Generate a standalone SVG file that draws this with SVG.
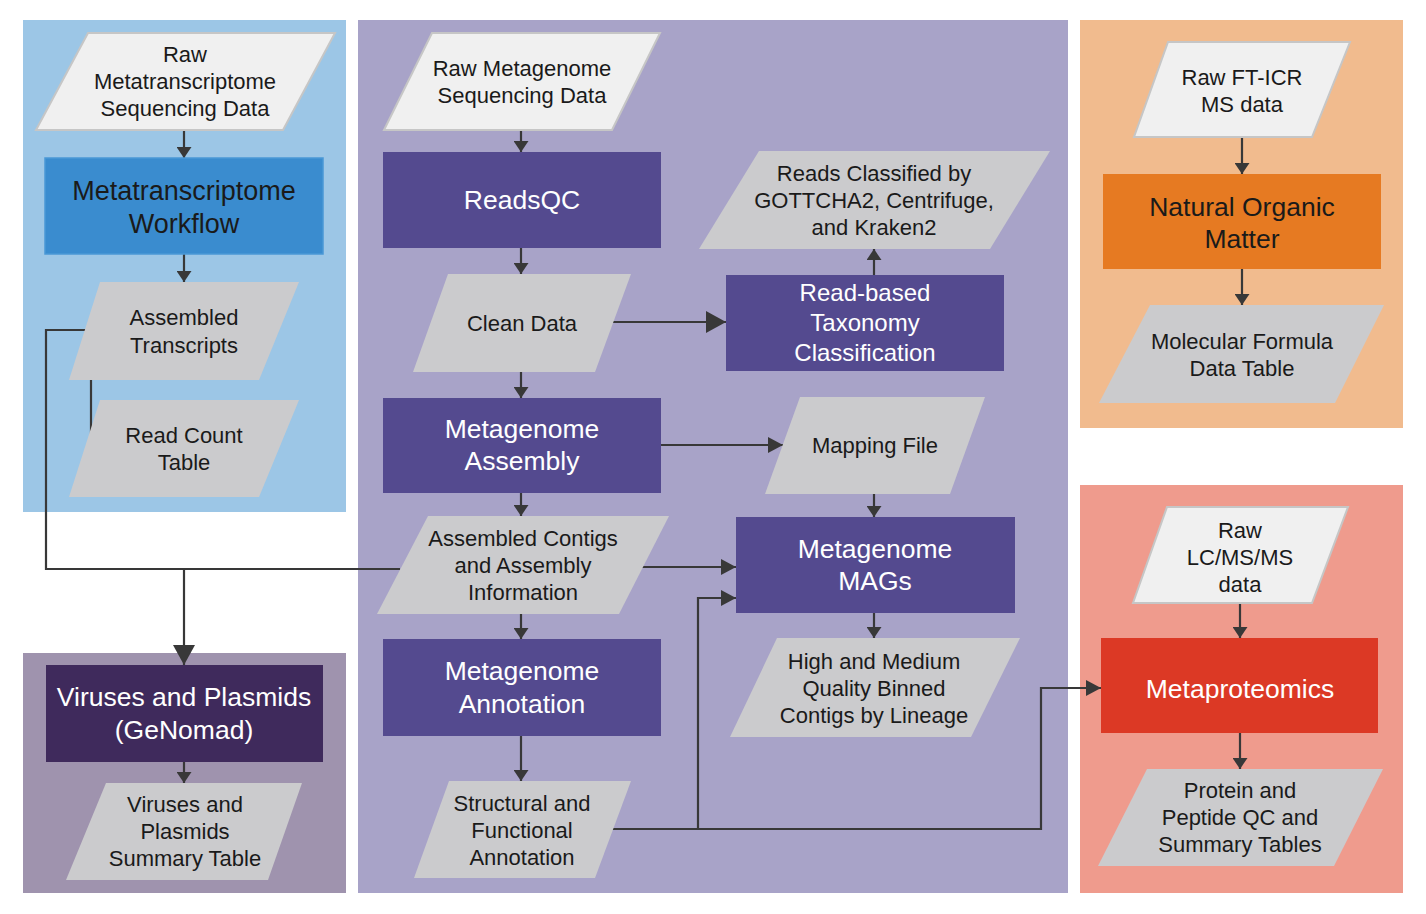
<svg xmlns="http://www.w3.org/2000/svg" width="1426" height="914" viewBox="0 0 1426 914">
<style>
text{font-family:"Liberation Sans",Arial,sans-serif;text-anchor:middle;fill:#1a1a1a}
.s{font-size:22px}
.m{font-size:24px}
.l{font-size:26.5px}
.xl{font-size:27px}
.w{fill:#ffffff}
.raw{fill:#f0f0f0;stroke:#c6c6c6;stroke-width:2}
.dat{fill:#cbcbcd}
.pr{fill:#544a8f}
.cn{fill:none;stroke:#383838;stroke-width:2.2}
</style>
<defs>
<marker id="ah" viewBox="0 0 11 15" refX="11" refY="7.5" markerWidth="11" markerHeight="15" orient="auto" markerUnits="userSpaceOnUse"><path d="M0,0 L11,7.5 L0,15 z" fill="#383838"/></marker>
<marker id="am" viewBox="0 0 15 16" refX="15" refY="8" markerWidth="15" markerHeight="16" orient="auto" markerUnits="userSpaceOnUse"><path d="M0,0 L15,8 L0,16 z" fill="#383838"/></marker>
<marker id="al" viewBox="0 0 20 22" refX="20" refY="11" markerWidth="20" markerHeight="22" orient="auto" markerUnits="userSpaceOnUse"><path d="M0,0 L20,11 L0,22 z" fill="#383838"/></marker>
</defs>
<rect width="1426" height="914" fill="#ffffff"/>
<g id="panels">
<rect id="panel-metatranscriptome" x="23" y="20" width="323" height="492" fill="#9cc6e6"/>
<rect id="panel-metagenome" x="358" y="20" width="710" height="873" fill="#a8a3c8"/>
<rect id="panel-nom" x="1080" y="20" width="323" height="408" fill="#f1bb8e"/>
<rect id="panel-metaproteomics" x="1080" y="485" width="323" height="408" fill="#ef9b8d"/>
<rect id="panel-viruses" x="23" y="653" width="323" height="240" fill="#9f93ae"/>
</g>
<g id="connectors">
<path class="cn" d="M184,130 V158" marker-end="url(#ah)"/>
<path class="cn" d="M184,254 V282" marker-end="url(#ah)"/>
<path class="cn" d="M91,380 V442"/>
<path class="cn" d="M88,330 H46 V569 H400"/>
<path class="cn" d="M184,569 V665" marker-end="url(#al)"/>
<path class="cn" d="M521,130 V152" marker-end="url(#ah)"/>
<path class="cn" d="M521,248 V274" marker-end="url(#ah)"/>
<path class="cn" d="M521,372 V398" marker-end="url(#ah)"/>
<path class="cn" d="M521,493 V516" marker-end="url(#ah)"/>
<path class="cn" d="M521,614 V639" marker-end="url(#ah)"/>
<path class="cn" d="M521,736 V781" marker-end="url(#ah)"/>
<path class="cn" d="M612,322 H726" marker-end="url(#al)"/>
<path class="cn" d="M874,275 V249" marker-end="url(#ah)"/>
<path class="cn" d="M661,445 H783" marker-end="url(#am)"/>
<path class="cn" d="M874,494 V517" marker-end="url(#ah)"/>
<path class="cn" d="M641,567 H736" marker-end="url(#am)"/>
<path class="cn" d="M612,829 H698 V598 H736" marker-end="url(#am)"/>
<path class="cn" d="M698,829 H1041 V688 H1101" marker-end="url(#am)"/>
<path class="cn" d="M874,613 V638" marker-end="url(#ah)"/>
<path class="cn" d="M1242,137 V174" marker-end="url(#ah)"/>
<path class="cn" d="M1242,269 V305" marker-end="url(#ah)"/>
<path class="cn" d="M1240,603 V638" marker-end="url(#ah)"/>
<path class="cn" d="M1240,733 V769" marker-end="url(#ah)"/>
<path class="cn" d="M184,762 V783" marker-end="url(#ah)"/>
</g>
<g id="raw-metatranscriptome"><polygon class="raw" points="88,33 335,33 283,130 36,130"/>
<text class="s" x="185" y="62">Raw</text><text class="s" x="185" y="89">Metatranscriptome</text><text class="s" x="185" y="116">Sequencing Data</text></g>
<g id="metatranscriptome-workflow"><rect x="45" y="158" width="278" height="96" fill="#3a8ccf" stroke="#4a98d6" stroke-width="1.5"/>
<text class="xl" x="184" y="200">Metatranscriptome</text><text class="xl" x="184" y="233">Workflow</text></g>
<g id="assembled-transcripts"><polygon class="dat" points="100,282 299,282 259,380 69,380"/>
<text class="s" x="184" y="325">Assembled</text><text class="s" x="184" y="353">Transcripts</text></g>
<g id="read-count-table"><polygon class="dat" points="100,400 299,400 259,497 69,497"/>
<text class="s" x="184" y="443">Read Count</text><text class="s" x="184" y="470">Table</text></g>
<g id="raw-metagenome"><polygon class="raw" points="432,33 660,33 612,130 384,130"/>
<text class="s" x="522" y="76">Raw Metagenome</text><text class="s" x="522" y="103">Sequencing Data</text></g>
<g id="readsqc"><rect class="pr" x="383" y="152" width="278" height="96"/>
<text class="l w" x="522" y="209">ReadsQC</text></g>
<g id="clean-data"><polygon class="dat" points="448,274 631,274 595,372 413,372"/>
<text class="s" x="522" y="331">Clean Data</text></g>
<g id="metagenome-assembly"><rect class="pr" x="383" y="398" width="278" height="95"/>
<text class="l w" x="522" y="438">Metagenome</text><text class="l w" x="522" y="470">Assembly</text></g>
<g id="assembled-contigs"><polygon class="dat" points="428,516 669,516 619,614 377,614"/>
<text class="s" x="523" y="546">Assembled Contigs</text><text class="s" x="523" y="573">and Assembly</text><text class="s" x="523" y="600">Information</text></g>
<g id="metagenome-annotation"><rect class="pr" x="383" y="639" width="278" height="97"/>
<text class="l w" x="522" y="680">Metagenome</text><text class="l w" x="522" y="713">Annotation</text></g>
<g id="structural-annotation"><polygon class="dat" points="449,781 631,781 595,878 414,878"/>
<text class="s" x="522" y="811">Structural and</text><text class="s" x="522" y="838">Functional</text><text class="s" x="522" y="865">Annotation</text></g>
<g id="reads-classified"><polygon class="dat" points="759,151 1050,151 990,249 699,249"/>
<text class="s" x="874" y="181">Reads Classified by</text><text class="s" x="874" y="208">GOTTCHA2, Centrifuge,</text><text class="s" x="874" y="235">and Kraken2</text></g>
<g id="read-based-taxonomy"><rect class="pr" x="726" y="275" width="278" height="96"/>
<text class="m w" x="865" y="301">Read-based</text><text class="m w" x="865" y="331">Taxonomy</text><text class="m w" x="865" y="361">Classification</text></g>
<g id="mapping-file"><polygon class="dat" points="800,397 985,397 950,494 765,494"/>
<text class="s" x="875" y="453">Mapping File</text></g>
<g id="metagenome-mags"><rect class="pr" x="736" y="517" width="279" height="96"/>
<text class="l w" x="875" y="558">Metagenome</text><text class="l w" x="875" y="590">MAGs</text></g>
<g id="binned-contigs"><polygon class="dat" points="777,638 1020,638 971,737 730,737"/>
<text class="s" x="874" y="669">High and Medium</text><text class="s" x="874" y="696">Quality Binned</text><text class="s" x="874" y="723">Contigs by Lineage</text></g>
<g id="raw-fticr"><polygon class="raw" points="1168,42 1350,42 1312,137 1134,137"/>
<text class="s" x="1242" y="85">Raw FT-ICR</text><text class="s" x="1242" y="112">MS data</text></g>
<g id="natural-organic-matter"><rect x="1103" y="174" width="278" height="95" fill="#e67a22"/>
<text class="l" x="1242" y="216">Natural Organic</text><text class="l" x="1242" y="248">Matter</text></g>
<g id="molecular-formula"><polygon class="dat" points="1150,305 1384,305 1335,403 1099,403"/>
<text class="s" x="1242" y="349">Molecular Formula</text><text class="s" x="1242" y="376">Data Table</text></g>
<g id="raw-lcms"><polygon class="raw" points="1167,507 1348,507 1312,603 1133,603"/>
<text class="s" x="1240" y="538">Raw</text><text class="s" x="1240" y="565">LC/MS/MS</text><text class="s" x="1240" y="592">data</text></g>
<g id="metaproteomics"><rect x="1101" y="638" width="277" height="95" fill="#dc3925"/>
<text class="l w" x="1240" y="698">Metaproteomics</text></g>
<g id="protein-tables"><polygon class="dat" points="1147,769 1383,769 1334,866 1098,866"/>
<text class="s" x="1240" y="798">Protein and</text><text class="s" x="1240" y="825">Peptide QC and</text><text class="s" x="1240" y="852">Summary Tables</text></g>
<g id="viruses-plasmids"><rect x="46" y="665" width="277" height="97" fill="#3f2a5c"/>
<text class="l w" x="184" y="706">Viruses and Plasmids</text><text class="l w" x="184" y="739">(GeNomad)</text></g>
<g id="viruses-summary"><polygon class="dat" points="106,783 302,783 268,880 66,880"/>
<text class="s" x="185" y="812">Viruses and</text><text class="s" x="185" y="839">Plasmids</text><text class="s" x="185" y="866">Summary Table</text></g>
</svg>
